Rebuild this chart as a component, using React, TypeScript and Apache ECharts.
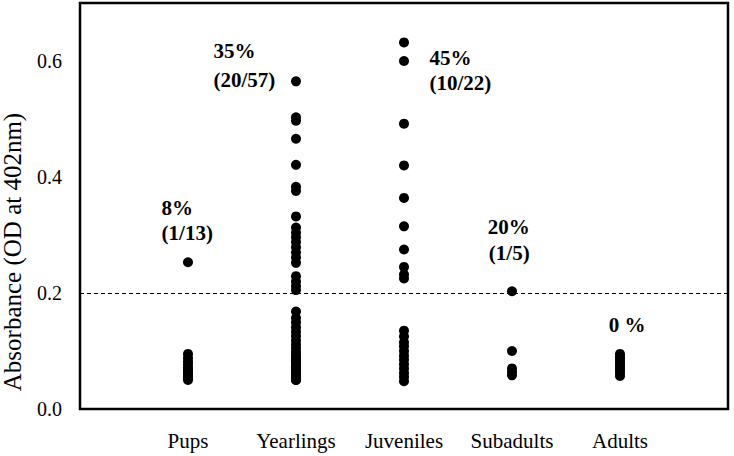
import React, { useEffect, useRef } from "react";
import * as echarts from "echarts";

const categories = ["Pups", "Yearlings", "Juveniles", "Subadults", "Adults"];

const pups = [0.253, 0.095, 0.088, 0.082, 0.077, 0.072, 0.068, 0.065, 0.062, 0.059, 0.056, 0.053, 0.05];
const yearlings = [
  0.565, 0.503, 0.497, 0.466, 0.421, 0.383, 0.376, 0.332, 0.313, 0.304, 0.296, 0.288, 0.279, 0.27, 0.261,
  0.252, 0.229, 0.22, 0.212, 0.205,
  0.168, 0.157, 0.149, 0.141, 0.133, 0.126, 0.118, 0.111, 0.105, 0.099, 0.094, 0.09, 0.087, 0.084, 0.081,
  0.078, 0.076, 0.074, 0.072, 0.07, 0.068, 0.066, 0.065, 0.063, 0.062, 0.06, 0.059, 0.058, 0.057, 0.056,
  0.055, 0.054, 0.053, 0.052, 0.051, 0.05, 0.05,
];
const juveniles = [
  0.632, 0.6, 0.492, 0.42, 0.364, 0.315, 0.275, 0.245, 0.232, 0.225,
  0.135, 0.125, 0.115, 0.108, 0.1, 0.092, 0.085, 0.077, 0.07, 0.062, 0.055, 0.048,
];
const subadults = [0.203, 0.1, 0.07, 0.064, 0.058];
const adults = [0.095, 0.09, 0.086, 0.082, 0.078, 0.074, 0.07, 0.066, 0.062, 0.057];

const groups = [pups, yearlings, juveniles, subadults, adults];
const threshold = 0.2;

const annotationText = ["8%", "(1/13)", "35%", "(20/57)", "45%", "(10/22)", "20%", "(1/5)", "0 %"];
const annotationX = [0.76, 0.76, 1.24, 1.24, 3.24, 3.24, 3.78, 3.79, 4.9];
const annotationY = [0.346, 0.303, 0.617, 0.566, 0.605, 0.561, 0.313, 0.268, 0.144];

const yTitle = "Absorbance (OD at 402nm)";

const serif = "'Liberation Serif', 'Times New Roman', serif";

export default function App() {
  const ref = useRef<HTMLDivElement>(null);
  useEffect(() => {
    document.body.style.margin = "0";
    const chart = echarts.init(ref.current!, null, { renderer: "svg" });
    const series: any[] = groups.map((vals, i) => ({
      type: "scatter",
      name: categories[i],
      symbol: "circle",
      symbolSize: 10,
      itemStyle: { color: "#000", opacity: 1 },
      data: vals.map((v) => [i + 1, v]),
      markLine:
        i === 0
          ? {
              silent: true,
              symbol: "none",
              label: { show: false },
              lineStyle: { color: "#000", type: [4, 3], width: 1, opacity: 1 },
              data: [{ yAxis: threshold }],
            }
          : undefined,
    }));
    series.push({
      type: "scatter",
      name: "annotations",
      symbolSize: 1,
      itemStyle: { color: "rgba(0,0,0,0)", opacity: 1 },
      data: annotationText.map((t, i) => ({ value: [annotationX[i], annotationY[i]], name: t })),
      label: {
        show: true,
        position: [0, 0],
        align: "left",
        verticalAlign: "middle",
        formatter: (p: any) => p.name,
        fontFamily: serif,
        fontWeight: "bold",
        fontSize: 21,
        color: "#000",
      },
    });
    chart.setOption({
      animation: false,
      backgroundColor: "#fff",
      graphic: [
        {
          type: "text",
          x: 12,
          y: 252,
          rotation: Math.PI / 2,
          style: {
            text: yTitle,
            fontFamily: serif,
            fontSize: 25,
            fill: "#000",
            align: "center",
            verticalAlign: "middle",
          },
        },
      ],
      grid: {
        left: 80,
        right: 6,
        top: 3,
        bottom: 47,
        show: true,
        borderColor: "#000",
        borderWidth: 2.5,
        backgroundColor: "transparent",
      },
      xAxis: {
        type: "value",
        min: 0,
        max: 6,
        interval: 1,
        axisLine: { show: false },
        axisTick: { show: false },
        splitLine: { show: false },
        axisLabel: {
          margin: 21,
          fontFamily: serif,
          fontSize: 21,
          color: "#000",
          formatter: (v: number) => categories[v - 1] ?? "",
        },
      },
      yAxis: {
        type: "value",
        min: 0,
        max: 0.7,
        interval: 0.2,
        axisLine: { show: false },
        axisTick: { show: false },
        splitLine: { show: false },
        axisLabel: {
          margin: 18,
          fontFamily: serif,
          fontSize: 20,
          color: "#000",
          formatter: (v: number) =>
            Math.abs(v * 5 - Math.round(v * 5)) < 1e-6 ? v.toFixed(1) : "",
        },
      },
      series,
    });
    return () => chart.dispose();
  }, []);
  return <div ref={ref} style={{ width: 734, height: 456 }} />;
}
